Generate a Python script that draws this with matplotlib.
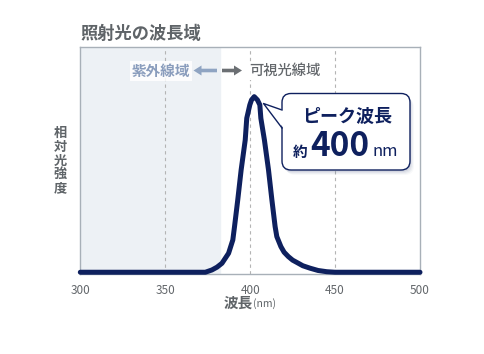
import matplotlib
matplotlib.use('Agg')
import matplotlib.pyplot as plt
from matplotlib.patches import FancyBboxPatch, FancyArrow, Polygon

plt.rcParams['font.family'] = ['Noto Sans CJK JP', 'DejaVu Sans']

# spectrum (nm, relative intensity)
wavelength = [300, 373.6, 377.5, 380.5, 383.4, 387.3, 389.8, 390.8, 392.7, 394.7, 397.1,
              398.0, 399.8, 400.8, 402.4, 404.3, 405.7, 406.3, 408.4, 410.8, 412.8,
              414.7, 415.7, 418.1, 420.0, 422.5, 425.0, 428.4, 431.0, 435.3, 440.0,
              445.1, 450, 500]
intensity = [0, 0, 1.3, 2.9, 5.1, 10.8, 18.4, 26.0, 41.2, 58.3, 75.3,
             87.7, 95.3, 98.1, 100, 98.1, 95.3, 87.7, 75.3, 58.3, 41.2,
             26.0, 20.3, 14.6, 11.4, 8.9, 6.9, 5.1, 3.7, 2.3, 1.0,
             0.3, 0, 0]

x_ticks = [300, 350, 400, 450, 500]
grid_lines = [350, 400, 450]
uv_range = (300, 382)

NAVY = '#0e205e'
GRAY = '#5f6468'
SPINE = '#a8b0b8'

fig = plt.figure(figsize=(4.84, 3.54), dpi=100)
ax = fig.add_axes([80.3 / 484, 80 / 354, (420 - 80.3) / 484, (274 - 47.3) / 354])

ax.axvspan(*uv_range, color='#edf1f5', zorder=0)
for g in grid_lines:
    ax.axvline(g, color='#b4b4b4', lw=0.8, dashes=(3, 3), zorder=1)

ax.plot(wavelength, intensity, color=NAVY, lw=3.6, solid_capstyle='round',
        solid_joinstyle='round', clip_on=False, zorder=5)

ax.set_xlim(300, 500)
ax.set_ylim(-1.0, 128.1)
ax.set_xticks(x_ticks)
ax.set_yticks([])
ax.tick_params(axis='x', length=0, pad=7, labelsize=8.5, labelcolor='#63676b')
for s in ax.spines.values():
    s.set_color(SPINE)
    s.set_linewidth(1.0)

# overlay in pixel coordinates for the annotations
ov = fig.add_axes([0, 0, 1, 1], zorder=10)
ov.set_xlim(0, 484)
ov.set_ylim(354, 0)
ov.axis('off')

fig.text(80 / 484, 1 - 34 / 354, '照射光の波長域', fontsize=12.4, fontweight='bold',
         color=GRAY, ha='left', va='center')

for i, ch in enumerate('相対光強度'):
    ov.text(60, 133 + 13.8 * i, ch, fontsize=9.5, fontweight='bold', color=GRAY,
            ha='center', va='center')

ov.text(253, 303, '波長', fontsize=10.5, fontweight='bold', color=GRAY, ha='right', va='center')
ov.text(253, 303.5, '(nm)', fontsize=7.5, color=GRAY, ha='left', va='center')

# region labels and arrows
ov.text(161, 71, '紫外線域', fontsize=10.5, fontweight='bold', color='#8a9dbd',
        ha='center', va='center',
        bbox=dict(boxstyle='square,pad=0.15', fc='white', ec='none', alpha=0.85))
ov.add_patch(FancyArrow(217, 70.5, -23.5, 0, width=3.6, head_width=10, head_length=8,
                        length_includes_head=True, color='#8fa4c2', lw=0))
ov.add_patch(FancyArrow(222, 70.5, 20, 0, width=3.6, head_width=10, head_length=8,
                        length_includes_head=True, color='#6b6f73', lw=0))
ov.text(249, 71, '可視光線域', fontsize=10.3, fontweight='medium', color='#64686c',
        ha='left', va='center',
        bbox=dict(boxstyle='square,pad=0.15', fc='white', ec='none'))

# callout box with shadow
bx0, by0, bx1, by1 = 282, 93.5, 410, 170
for k, a in enumerate([0.10, 0.08, 0.06, 0.04]):
    ov.add_patch(FancyBboxPatch((bx0 + 1 + k, by0 + 2 + k), bx1 - bx0, by1 - by0,
                                boxstyle='round,pad=0,rounding_size=9',
                                fc='#5a6a90', ec='none', alpha=a))
ov.add_patch(FancyBboxPatch((bx0, by0), bx1 - bx0, by1 - by0,
                            boxstyle='round,pad=0,rounding_size=9',
                            fc='white', ec=NAVY, lw=1.0))
tip = (263.5, 103.5)
ov.add_patch(Polygon([(bx0 + 1.5, 110), tip, (bx0 + 1.5, 128)], closed=True,
                     fc='white', ec='none'))
ov.plot([bx0, tip[0], bx0], [110, tip[1], 128], color=NAVY, lw=1.0)

ov.text(347.5, 116.5, 'ピーク波長', fontsize=13, fontweight='bold', color=NAVY,
        ha='center', va='center')
ov.text(293, 156.5, '約', fontsize=10.5, fontweight='bold', color=NAVY, ha='left', va='baseline')
ov.text(310, 156.5, '400', fontsize=24, fontweight='bold', color=NAVY, ha='left', va='baseline')
ov.text(373, 156.5, 'nm', fontsize=12, color=NAVY, ha='left', va='baseline')

fig.savefig('out.png', dpi=100)
